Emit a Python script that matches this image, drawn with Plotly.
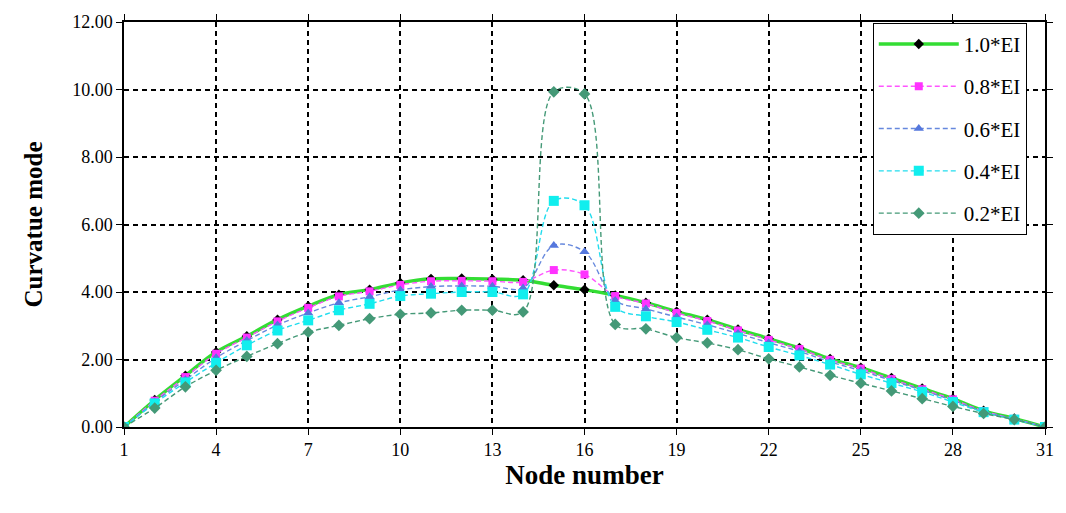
import plotly.graph_objects as go

nodes = list(range(1, 32))
series_names = ["1.0*EI", "0.8*EI", "0.6*EI", "0.4*EI", "0.2*EI"]

ei_10 = [0, 0.80, 1.52, 2.22, 2.69, 3.18, 3.58, 3.92, 4.07, 4.27, 4.39, 4.40, 4.38, 4.35, 4.20, 4.07,
         3.90, 3.68, 3.42, 3.18, 2.89, 2.62, 2.34, 2.02, 1.76, 1.45, 1.14, 0.84, 0.48, 0.25, 0]
ei_08 = [0, 0.78, 1.48, 2.17, 2.65, 3.13, 3.53, 3.87, 4.02, 4.21, 4.32, 4.33, 4.32, 4.30, 4.65, 4.52,
         3.88, 3.66, 3.38, 3.14, 2.86, 2.58, 2.31, 1.99, 1.73, 1.42, 1.12, 0.82, 0.47, 0.24, 0]
ei_06 = [0, 0.74, 1.40, 2.05, 2.56, 3.02, 3.38, 3.68, 3.86, 4.06, 4.16, 4.18, 4.17, 4.12, 5.38, 5.19,
         3.75, 3.50, 3.26, 3.03, 2.77, 2.50, 2.24, 1.93, 1.67, 1.38, 1.09, 0.79, 0.46, 0.23, 0]
ei_04 = [0, 0.70, 1.32, 1.90, 2.42, 2.86, 3.16, 3.46, 3.65, 3.88, 3.95, 4.00, 4.00, 3.93, 6.70, 6.57,
         3.56, 3.28, 3.11, 2.88, 2.65, 2.37, 2.12, 1.85, 1.56, 1.30, 1.04, 0.74, 0.44, 0.22, 0]
ei_02 = [0, 0.56, 1.19, 1.68, 2.09, 2.47, 2.81, 3.01, 3.21, 3.34, 3.38, 3.46, 3.46, 3.41, 9.93, 9.87,
         3.04, 2.91, 2.65, 2.49, 2.29, 2.02, 1.78, 1.53, 1.30, 1.07, 0.84, 0.61, 0.40, 0.22, 0]

x_ticks = [1, 4, 7, 10, 13, 16, 19, 22, 25, 28, 31]
y_ticks = [0, 2, 4, 6, 8, 10, 12]

styles = [
    dict(line=dict(color="#33DD33", width=3.5, dash="solid"),
         marker=dict(symbol="diamond", color="black", size=8)),
    dict(line=dict(color="#FF55FF", width=1.4, dash="5px,3px"),
         marker=dict(symbol="square", color="#FF33FF", size=8)),
    dict(line=dict(color="#6688DD", width=1.4, dash="5px,3px"),
         marker=dict(symbol="triangle-up", color="#5577DD", size=9)),
    dict(line=dict(color="#22DDEE", width=1.4, dash="5px,3px"),
         marker=dict(symbol="square", color="#11EEEE", size=10)),
    dict(line=dict(color="#449977", width=1.4, dash="5px,3px"),
         marker=dict(symbol="diamond", color="#449977", size=9)),
]

fig = go.Figure()
for name, vals, st in zip(series_names, [ei_10, ei_08, ei_06, ei_04, ei_02], styles):
    fig.add_trace(go.Scatter(
        x=nodes, y=vals, name=name, mode="lines+markers",
        line=dict(shape="spline", smoothing=1.0, **st["line"]),
        marker=st["marker"], legendgroup=name,
    ))

font_family = "Liberation Serif"
fig.update_layout(
    width=1066, height=513,
    margin=dict(l=124, r=17, t=21, b=86),
    paper_bgcolor="white", plot_bgcolor="white",
    font=dict(family=font_family, color="black"),
    showlegend=True,
    legend=dict(
        x=0.813, y=0.998, xanchor="left", yanchor="top",
        bgcolor="white", bordercolor="black", borderwidth=1,
        font=dict(family=font_family, size=21, color="black"),
        itemwidth=80, tracegroupgap=12, traceorder="grouped",
    ),
    xaxis=dict(
        range=[1, 31], tickvals=x_ticks, ticktext=[str(v) for v in x_ticks],
        showgrid=True, gridcolor="black", gridwidth=1.5, griddash="5px,4px",
        showline=True, linecolor="black", linewidth=1.5, mirror="ticks",
        ticks="outside", ticklen=6, tickcolor="black",
        tickfont=dict(family=font_family, size=18),
        title=dict(text="<b>Node number</b>", font=dict(family=font_family, size=27), standoff=6),
        zeroline=False,
    ),
    yaxis=dict(
        range=[0, 12], tickvals=y_ticks, tickformat=".2f",
        showgrid=True, gridcolor="black", gridwidth=1.5, griddash="5px,4px",
        showline=True, linecolor="black", linewidth=1.5, mirror="ticks",
        ticks="outside", ticklen=6, tickcolor="black",
        tickfont=dict(family=font_family, size=18),
        title=dict(text="<b>Curvatue mode</b>", font=dict(family=font_family, size=25), standoff=22),
        zeroline=False,
    ),
)

fig.write_html("out.html")
